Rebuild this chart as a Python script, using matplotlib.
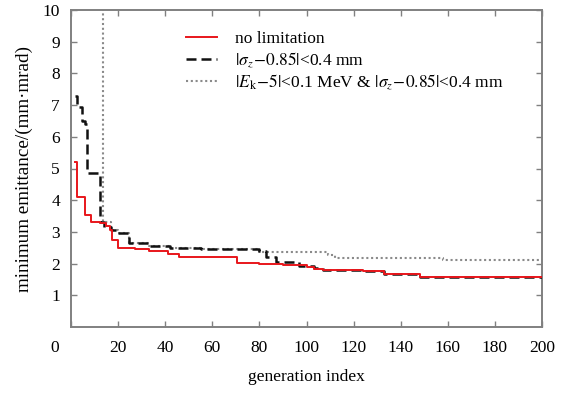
import matplotlib
matplotlib.use("Agg")
import matplotlib.pyplot as plt

plt.rcParams['font.family'] = ['Liberation Serif', 'DejaVu Serif']
plt.rcParams['mathtext.fontset'] = 'stix'

# change points (generation, value) -- step curves
red_x = [1.5, 2.5, 6, 8.5, 12.5, 15, 16.6, 17.4, 20, 27, 33, 41, 46, 70.5, 80, 90, 100, 103, 107, 124, 133, 148, 200]
red_y = [5.2, 4.1, 3.53, 3.31, 3.28, 3.2, 3.06, 2.74, 2.49, 2.45, 2.40, 2.30, 2.22, 2.02, 1.98, 1.95, 1.88, 1.83, 1.80, 1.77, 1.67, 1.58, 1.58]

blk_x = [1.5, 2.5, 4.5, 6, 7, 12.3, 14, 17, 20, 24.5, 33, 42, 55, 80, 83, 87, 97, 103, 107, 124, 133, 148, 200]
blk_y = [7.3, 6.95, 6.5, 6.4, 4.85, 3.3, 3.15, 3.05, 2.95, 2.65, 2.55, 2.5, 2.45, 2.4, 2.2, 2.05, 1.92, 1.85, 1.80, 1.77, 1.67, 1.58, 1.58]

dot_x = [13.6, 13.8, 17, 20, 24.5, 33, 42, 55, 80, 109, 112, 158, 200]
dot_y = [12.0, 3.3, 3.05, 2.95, 2.65, 2.55, 2.5, 2.45, 2.37, 2.27, 2.18, 2.12, 2.12]

labels = ["no limitation",
          r"$|\sigma_z\!-\!0.85|$<0.4 mm",
          r"$|E_\mathrm{k}\!-\!5|$<0.1 MeV & $|\sigma_z\!-\!0.85|$<0.4 mm"]

xticks = [0, 20, 40, 60, 80, 100, 120, 140, 160, 180, 200]
yticks = [1, 2, 3, 4, 5, 6, 7, 8, 9, 10]

fig = plt.figure(figsize=(5.62, 3.93), dpi=100)
ax = fig.add_axes([71/562, 1-327/393, 471/562, 317/393])

ax.plot(dot_x, dot_y, drawstyle='steps-post', color='#8a8a8a', lw=1.5,
        linestyle=(0, (1, 1.3)), label=labels[2], zorder=2)
ax.plot(blk_x, blk_y, drawstyle='steps-post', color='#111111', lw=1.8,
        linestyle=(0, (4, 2)), label=labels[1], zorder=3)
ax.plot(red_x, red_y, drawstyle='steps-post', color='#e8161b', lw=1.4,
        label=labels[0], zorder=4)

ax.set_xlim(0, 200)
ax.set_ylim(0, 10)
ax.set_xticks(xticks)
ax.set_xticklabels(['' if t == 0 else str(t) for t in xticks])
ax.set_yticks(yticks)
ax.tick_params(direction='in', top=True, right=True, length=4, width=1,
               color='#808080', labelsize=12.5)
ax.tick_params(axis='x', pad=9)
ax.tick_params(axis='y', pad=8)
for s in ax.spines.values():
    s.set_color('#808080')
    s.set_linewidth(1.4)

ax.annotate('0', xy=(0, 0), xycoords='axes fraction', xytext=(-16, -21),
            textcoords='offset pixels', ha='center', va='center', fontsize=12.5)

ax.set_xlabel('generation index', fontsize=12.5, labelpad=10)
ax.set_ylabel('minimum emittance/(mm·mrad)', fontsize=13.8, labelpad=7)

h, l = ax.get_legend_handles_labels()
ax.legend(h[::-1], l[::-1], loc='upper left', bbox_to_anchor=(0.226, 0.962),
          frameon=False, fontsize=12.5, handlelength=1.75, handletextpad=1.05,
          labelspacing=0.2, borderpad=0)

fig.savefig('out.png', dpi=100)
